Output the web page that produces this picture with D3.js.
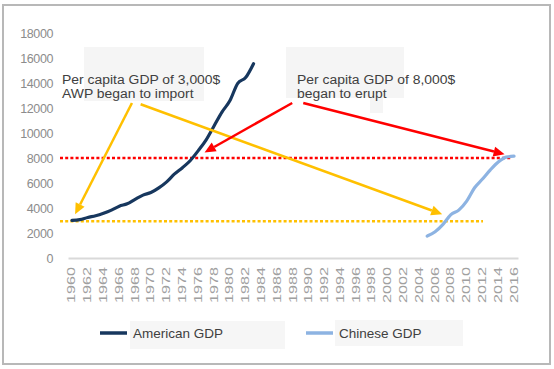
<!DOCTYPE html>
<html><head><meta charset="utf-8">
<script src="https://cdn.jsdelivr.net/npm/d3@7"></script>
<style>body{margin:0;background:#fff}svg{display:block}text{font-family:Arial,"Liberation Sans",sans-serif}</style>
</head><body><div id="chart"></div>
<script>
const years = d3.range(1960, 2017);
const usYears = d3.range(1960, 1984);
const usGDP = [3007,3067,3244,3375,3574,3828,4146,4336,4696,5032,5234,5609,6094,6726,7226,7801,8592,9453,10565,11674,12575,13976,14434,15544];
const cnYears = d3.range(2005, 2017);
const cnGDP = [1753,2099,2694,3468,3832,4550,5618,6317,7051,7679,8067,8148];
const yTicks = [0,2000,4000,6000,8000,10000,12000,14000,16000,18000];
const refHigh = 8000, refLow = 2950;
const seriesNames = ["American GDP","Chinese GDP"];
const notes = [
  {lines:["Per capita GDP of 3,000$","AWP began to import"], year:1958.75, value:13960},
  {lines:["Per capita GDP of 8,000$","began to erupt"], year:1988.5, value:13960}
];
// arrows: [fromYear, fromValue, toYear, toValue, colour]
const arrows = [
  [1967.6,12400,1960.4,3500,"#ffc000"],
  [1968.7,12300,2006.9,3500,"#ffc000"],
  [1987.9,12400,1976.8,8450,"#ff0000"],
  [1989.3,12400,2014.8,8300,"#ff0000"]
];

const W=554,H=369;
const svg=d3.select("#chart").append("svg").attr("width",W).attr("height",H);
svg.append("rect").attr("x",3).attr("y",5).attr("width",547).attr("height",359).attr("fill","#fff").attr("stroke","#b8b8b8").attr("stroke-width",2);

const x=d3.scaleBand().domain(years).range([68,518]);
const xc=d3.scaleLinear().domain([1960,2016]).range([x(1960)+x.bandwidth()/2, x(2016)+x.bandwidth()/2]);
const y=d3.scaleLinear().domain([0,18000]).range([258,33]);

// annotation backgrounds
svg.append("rect").attr("x",84).attr("y",47).attr("width",120).attr("height",54).attr("fill","#f5f5f5");
svg.append("rect").attr("x",286).attr("y",47).attr("width",118).attr("height",51).attr("fill","#f5f5f5");
svg.append("rect").attr("x",370).attr("y",95).attr("width",13).attr("height",18).attr("fill","#f5f5f5");
// legend backgrounds
svg.append("rect").attr("x",130).attr("y",321).attr("width",155).attr("height",28).attr("fill","#f6f6f6");
svg.append("rect").attr("x",335).attr("y",320).attr("width",128).attr("height",26).attr("fill","#f6f6f6");

// y axis
const yAxis=d3.axisLeft(y).tickValues(yTicks).tickSize(0).tickPadding(0).tickFormat(d3.format("d"));
const ya=svg.append("g").attr("transform","translate(53,0)").call(yAxis);
ya.select(".domain").remove();
ya.selectAll("text").attr("fill","#8c8c8c").attr("font-size",12.5).attr("letter-spacing","-0.4px");

// x axis
const xAxis=d3.axisBottom(x).tickValues(years.filter(d=>d%2===0)).tickSize(0);
const xa=svg.append("g").attr("transform","translate(0,258)").call(xAxis);
xa.select(".domain").attr("stroke","#d9d9d9").attr("stroke-width",2);
xa.selectAll("text").attr("fill","#a0a0a0").attr("font-size",10)
  .attr("text-anchor","end").attr("x",0).attr("y",0).attr("dy","0.35em")
  .attr("transform","translate(0,9) rotate(-90) scale(1.62,1)");

// reference dotted lines
svg.append("line").attr("x1",60).attr("x2",512).attr("y1",y(refHigh)).attr("y2",y(refHigh))
  .attr("stroke","#ff0000").attr("stroke-width",2.5).attr("stroke-dasharray","3,2.2");
svg.append("line").attr("x1",60).attr("x2",483).attr("y1",y(refLow)).attr("y2",y(refLow))
  .attr("stroke","#ffc000").attr("stroke-width",2.5).attr("stroke-dasharray","3,2.2");

// series
const line=d3.line().x(d=>x(d[0])+x.bandwidth()/2).y(d=>y(d[1])).curve(d3.curveMonotoneX);
svg.append("path").datum(usYears.map((d,i)=>[d,usGDP[i]])).attr("d",line)
  .attr("fill","none").attr("stroke","#17375e").attr("stroke-width",3.2).attr("stroke-linecap","round");
svg.append("path").datum(cnYears.map((d,i)=>[d,cnGDP[i]])).attr("d",line)
  .attr("fill","none").attr("stroke","#8db3e2").attr("stroke-width",3.2).attr("stroke-linecap","round");

// annotation text
notes.forEach(n=>{
  n.lines.forEach((l,i)=>svg.append("text")
    .attr("transform",`translate(${xc(n.year)},${y(n.value)+i*14}) scale(1.16,1)`)
    .attr("fill","#404040").attr("font-size",12).text(l));
});

// arrows
arrows.forEach(a=>{
  const x1=xc(a[0]),y1=y(a[1]),x2=xc(a[2]),y2=y(a[3]);
  const ang=Math.atan2(y2-y1,x2-x1), L=11, Wd=5;
  const bx=x2-L*Math.cos(ang), by=y2-L*Math.sin(ang);
  svg.append("line").attr("x1",x1).attr("y1",y1).attr("x2",bx).attr("y2",by).attr("stroke",a[4]).attr("stroke-width",2.5);
  const px=-Math.sin(ang)*Wd, py=Math.cos(ang)*Wd;
  svg.append("path").attr("d",`M${x2},${y2}L${bx+px},${by+py}L${bx-px},${by-py}Z`).attr("fill",a[4]);
});

// legend
const leg=[{name:seriesNames[0],c:"#17375e",x:100},{name:seriesNames[1],c:"#8db3e2",x:306}];
leg.forEach(l=>{
  svg.append("line").attr("x1",l.x).attr("x2",l.x+27).attr("y1",333).attr("y2",333).attr("stroke",l.c).attr("stroke-width",3.5);
  svg.append("text").attr("x",l.x+33).attr("y",333).attr("dy","0.35em").attr("fill","#404040").attr("font-size",13.5).text(l.name);
});
</script></body></html>
